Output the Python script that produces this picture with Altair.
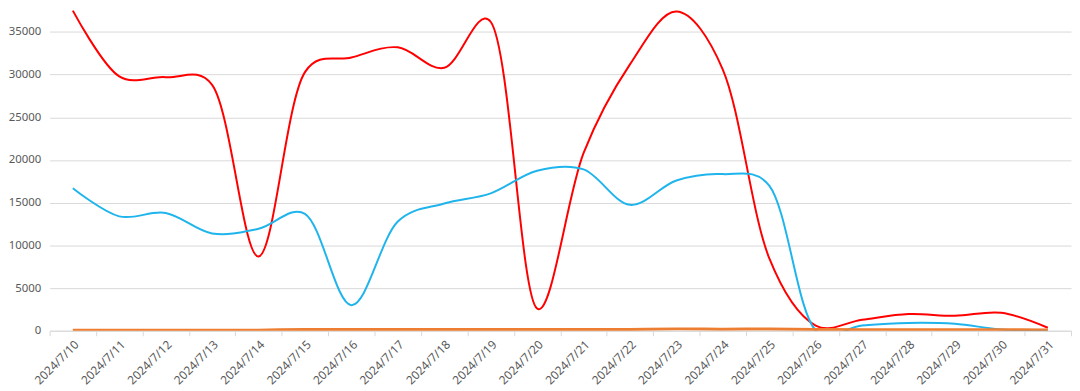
import altair as alt
import pandas as pd

dates = ["2024/7/10", "2024/7/11", "2024/7/12", "2024/7/13", "2024/7/14", "2024/7/15",
         "2024/7/16", "2024/7/17", "2024/7/18", "2024/7/19", "2024/7/20", "2024/7/21",
         "2024/7/22", "2024/7/23", "2024/7/24", "2024/7/25", "2024/7/26", "2024/7/27",
         "2024/7/28", "2024/7/29", "2024/7/30", "2024/7/31"]

red_values = [37500, 29800, 29700, 28800, 8700, 30300, 32000, 33200, 30800, 36200, 2600,
              20800, 31200, 37400, 30600, 8500, 600, 1300, 1950, 1750, 2100, 350]
blue_values = [16700, 13400, 13800, 11400, 11950, 13700, 3000, 12800, 14900, 16100, 18750,
               18900, 14750, 17600, 18350, 17000, 50, 610, 920, 810, 150, 70]
orange_values = [60, 60, 60, 60, 70, 150, 160, 150, 150, 150, 140,
                 140, 160, 220, 180, 210, 150, 130, 120, 120, 110, 100]

series_names = ["系列1", "系列2", "系列3"]
series_colors = ["#FF0000", "#1FB5EC", "#ED7D31"]
series_widths = [2, 2, 3]
y_ticks = [0, 5000, 10000, 15000, 20000, 25000, 30000, 35000]

rows = []
for name, vals in zip(series_names, [red_values, blue_values, orange_values]):
    for d, v in zip(dates, vals):
        rows.append({"date": d, "series": name, "value": v})
df = pd.DataFrame(rows)

x_enc = alt.X(
    "date:N", sort=dates, bandPosition=0.5,
    scale=alt.Scale(type="band", paddingInner=0, paddingOuter=0),
    axis=alt.Axis(title=None, labelAngle=-45, tickBand="extent", ticks=True, tickSize=5,
                  tickColor="#D9D9D9", domainColor="#D9D9D9", domainWidth=1,
                  labelColor="#595959", labelFontSize=12, labelFont="Noto Sans",
                  labelPadding=3, grid=False),
)
y_enc = alt.Y(
    "value:Q",
    scale=alt.Scale(domain=[0, 37600], nice=False, zero=True),
    axis=alt.Axis(title=None, values=y_ticks, format="d", domain=False, ticks=False,
                  grid=True, gridColor="#D9D9D9", gridWidth=1, labelColor="#595959",
                  labelFontSize=11.5, labelFont="Noto Sans", labelPadding=9,
                  minExtent=40, maxExtent=40),
)

base = alt.Chart(df)
layers = []
for name, col, w in zip(series_names, series_colors, series_widths):
    layers.append(
        base.transform_filter(alt.datum.series == name)
        .mark_line(interpolate="catmull-rom", tension=0.25, color=col, strokeWidth=w,
                   clip=True)
        .encode(x=x_enc, y=y_enc)
    )

chart = (
    alt.layer(*layers)
    .properties(width=1031, height=324,
                padding={"left": 0, "top": 0, "right": 0, "bottom": 0})
    .configure_view(stroke=None)
)

chart.save("out.html", embed_options={"renderer": "svg", "actions": False})
